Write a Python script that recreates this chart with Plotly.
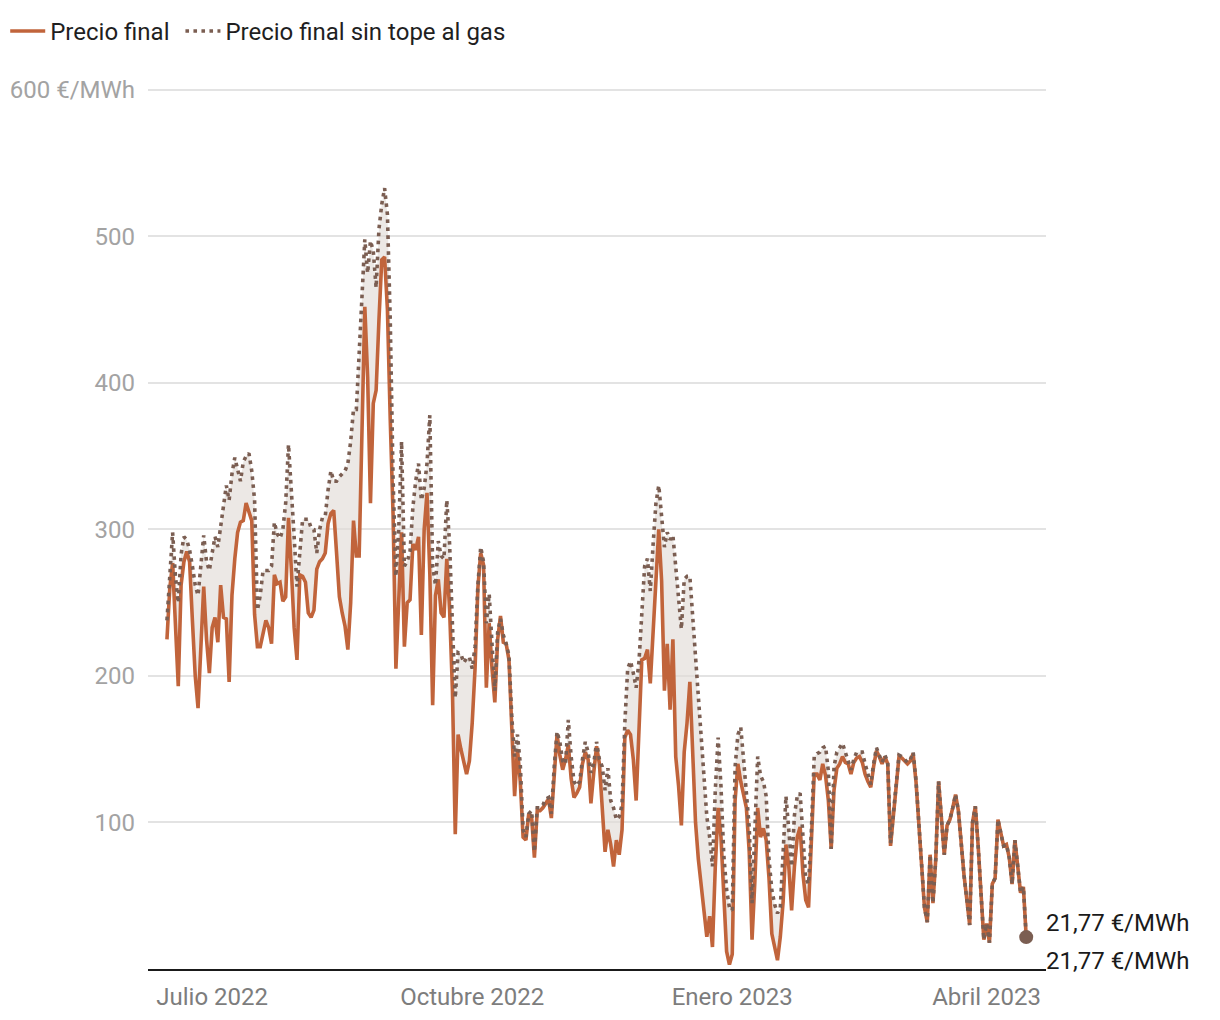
import pandas as pd
import plotly.graph_objects as go

start_date = "2022-06-15"

precio_final = [
    225, 260, 277, 240, 193, 262, 278, 285, 278, 238,
    200, 178, 215, 261, 225, 202, 233, 240, 223, 262,
    240, 239, 196, 255, 280, 298, 305, 306, 318, 311,
    306, 242, 220, 220, 228, 238, 233, 222, 269, 263,
    264, 251, 254, 308, 273, 233, 211, 269, 268, 264,
    243, 240, 245, 273, 278, 280, 284, 304, 311, 313,
    284, 254, 243, 234, 218, 250, 306, 282, 282, 370,
    452, 404, 318, 386, 395, 443, 484, 486, 450, 375,
    310, 205, 252, 298, 220, 250, 252, 290, 286, 295,
    228, 300, 325, 270, 180, 255, 266, 243, 240, 280,
    245, 190, 92, 160, 150, 140, 133, 142, 168, 205,
    260, 284, 276, 192, 236, 205, 182, 225, 241, 223,
    222, 211, 165, 118, 150, 128, 90, 88, 106, 104,
    76, 108, 108, 110, 113, 116, 103, 136, 160, 146,
    136, 143, 153, 130, 117, 120, 124, 140, 148, 143,
    113, 134, 152, 140, 110, 80, 95, 85, 70, 88,
    78, 95, 158, 163, 160, 143, 115, 160, 211, 212,
    218, 195, 230, 272, 300, 265, 190, 222, 177, 225,
    145, 125, 98, 148, 168, 196, 140, 100, 75, 58,
    42, 22, 36, 15, 70, 110, 90, 45, 12, 3,
    10, 115, 140, 128, 120, 110, 80, 20, 60, 110,
    90, 96, 88, 62, 24, 15, 6, 22, 46, 85,
    70, 40, 70, 90, 97, 65, 47, 42, 90, 133,
    133, 129, 140, 132, 115, 82, 122, 137, 140, 145,
    141, 140, 133, 141, 144, 145, 141, 133, 128, 124,
    138, 149, 145, 140, 145, 140, 84, 106, 127, 145,
    144, 142, 140, 142, 147, 128, 100, 72, 42, 32,
    78, 45, 75, 128, 102, 78, 98, 102, 110, 119,
    108, 84, 64, 47, 30, 100, 111, 84, 55, 20,
    31, 18, 58, 62, 102, 92, 84, 85, 76, 58,
    88, 70, 52, 56, 21.77,
]

precio_sin_tope = [
    238, 270, 298, 268, 250, 283, 295, 293, 286, 275,
    262, 255, 278, 296, 278, 272, 284, 295, 288, 302,
    318, 330, 320, 338, 349, 342, 333, 346, 350, 352,
    340, 320, 245, 255, 272, 272, 272, 275, 305, 297,
    294, 300, 318, 358, 330, 295, 261, 284, 307, 307,
    307, 301, 300, 284, 300, 308, 309, 327, 340, 333,
    333, 336, 338, 340, 345, 360, 382, 382, 420, 460,
    498, 475, 497, 490, 465, 505, 522, 533, 515, 443,
    335, 268, 300, 360, 275, 278, 285, 315, 333, 345,
    320, 328, 345, 378, 275, 262, 292, 282, 280, 320,
    290, 235, 185, 216, 215, 209, 212, 213, 205, 220,
    262, 288, 278, 236, 256, 222, 190, 230, 239, 228,
    222, 214, 172, 145, 160, 140, 95, 90, 106, 108,
    80, 110, 110, 112, 116, 117, 106, 138, 162, 155,
    142, 140, 170, 145, 128, 125, 128, 143, 155, 148,
    134, 140, 155, 143, 138, 122, 137, 115, 110, 102,
    104, 112, 168, 205, 210, 202, 192, 210, 245, 275,
    280, 258, 290, 318, 330, 305, 288, 298, 293, 296,
    275, 250, 232, 266, 268, 268, 240, 210, 180, 158,
    132, 104, 90, 70, 122, 158, 125, 78, 54, 42,
    40, 138, 160, 165, 143, 120, 97, 45, 100, 145,
    132, 128, 118, 75, 54, 44, 38, 42, 80, 118,
    95, 70, 105, 118, 120, 88, 62, 58, 95, 145,
    147, 148, 151, 152, 135, 82, 138, 148, 151, 154,
    148, 141, 136, 143, 148, 148, 148, 140, 132, 126,
    140, 151, 146, 141, 146, 141, 86, 107, 128, 146,
    145, 143, 141, 143, 148, 129, 101, 72, 42, 32,
    78, 45, 75, 128, 102, 78, 98, 102, 110, 119,
    108, 84, 64, 47, 30, 100, 111, 84, 55, 20,
    31, 18, 58, 62, 102, 92, 84, 85, 76, 58,
    88, 70, 52, 56, 21.77,
]

x_tick_dates = ["2022-07-01", "2022-10-01", "2023-01-01", "2023-04-01"]
x_tick_labels = ["Julio 2022", "Octubre 2022", "Enero 2023", "Abril 2023"]
y_tick_values = [100, 200, 300, 400, 500, 600]
y_tick_labels = ["100", "200", "300", "400", "500", "600 €/MWh"]

dates = pd.date_range(start_date, periods=len(precio_final), freq="D")

SOLID = "#c1643b"
DOTTED = "#7b5e52"
FILL = "rgba(226,220,215,0.65)"
FONT = "Roboto"

fig = go.Figure()
fig.add_trace(go.Scatter(
    x=dates, y=precio_final, name="Precio final&nbsp;", mode="lines",
    line=dict(color=SOLID, width=3.6), hoverinfo="skip",
))
fig.add_trace(go.Scatter(
    x=dates, y=precio_sin_tope, mode="lines", showlegend=False,
    line=dict(width=0), fill="tonexty", fillcolor=FILL, hoverinfo="skip",
))
fig.add_trace(go.Scatter(
    x=dates, y=precio_sin_tope, name="Precio final sin tope al gas", mode="lines",
    line=dict(color=DOTTED, width=3.6, dash="3.6px,4.4px"), hoverinfo="skip",
))
fig.add_trace(go.Scatter(
    x=[dates[-1]], y=[precio_sin_tope[-1]], mode="markers", showlegend=False,
    marker=dict(color=DOTTED, size=14), hoverinfo="skip",
))

last_txt = f"{precio_final[-1]:.2f}".replace(".", ",") + " €/MWh"
for ys in (14, -24):
    fig.add_annotation(
        x=dates[-1], y=precio_final[-1], xref="x", yref="y",
        text=last_txt, showarrow=False, xanchor="left", yanchor="middle",
        xshift=18, yshift=ys, font=dict(family=FONT, size=24, color="#1a1a1a"),
    )

fig.update_layout(
    width=1220, height=1020,
    margin=dict(l=148, r=174, t=87, b=51, autoexpand=False),
    paper_bgcolor="white", plot_bgcolor="white",
    font=dict(family=FONT),
    showlegend=True,
    legend=dict(
        orientation="h", x=-0.159, y=1.063, xanchor="left", yanchor="middle",
        traceorder="normal", itemwidth=35,
        font=dict(family=FONT, size=24, color="#1f1f1f"),
        bgcolor="rgba(0,0,0,0)",
    ),
    xaxis=dict(
        type="date", range=["2022-06-08 07:00", "2023-04-22 00:00"],
        tickvals=x_tick_dates, ticktext=x_tick_labels,
        showgrid=False, zeroline=False, ticks="",
        showline=True, linecolor="#1a1a1a", linewidth=2,
        tickfont=dict(family=FONT, size=24, color="#7d7d7d"),
        ticklabelstandoff=5,
    ),
    yaxis=dict(
        range=[0, 602], tickvals=y_tick_values, ticktext=y_tick_labels,
        showgrid=True, gridcolor="#e3e3e3", gridwidth=1.5,
        zeroline=False, showline=False, ticks="",
        tickfont=dict(family=FONT, size=24, color="#a3a3a3"),
        ticklabelstandoff=12,
    ),
)

fig.write_html("out.html")
